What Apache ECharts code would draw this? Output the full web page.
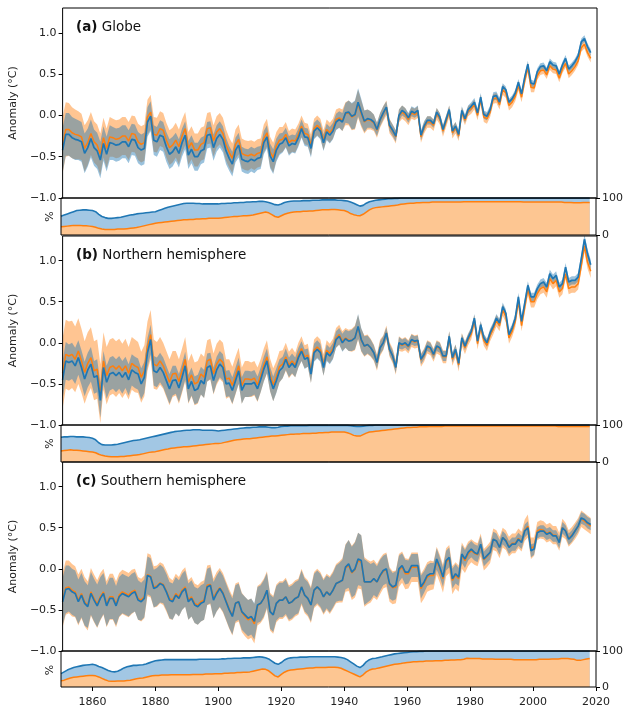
<!DOCTYPE html>
<html><head><meta charset="utf-8">
<script src="https://cdn.jsdelivr.net/npm/echarts@6/dist/echarts.min.js"></script>
<style>html,body{margin:0;padding:0;background:#fff}#c{width:626px;height:708px}</style>
</head><body><div id="c"></div>
<script>
// Years 1850..2018; anomaly values and half-widths in hundredths of a degree C; coverage in %.
const firstYear = 1850, lastAxisYear = 2020;
const xTickYears = [1860, 1880, 1900, 1920, 1940, 1960, 1980, 2000, 2020];
const yTickValues = [-1, -0.5, 0, 0.5, 1];
const coverageTicks = [0, 100];

const globeBlue = [
-42,-23,-23,-27,-29,-30,-32,-46,-39,-28,
-39,-43,-54,-34,-47,-33,-34,-36,-35,-32,
-32,-38,-29,-30,-39,-42,-40,-8,-1,-30,
-32,-24,-26,-38,-47,-44,-38,-46,-33,-24,
-48,-41,-50,-50,-43,-41,-24,-23,-39,-28,
-23,-29,-43,-52,-59,-42,-36,-53,-55,-56,
-53,-55,-52,-51,-33,-26,-49,-56,-42,-35,
-33,-27,-37,-34,-35,-27,-16,-26,-27,-40,
-19,-15,-19,-33,-20,-24,-19,-8,-5,-8,
3,4,-1,1,16,4,-7,-4,-5,-8,
-17,-5,3,10,-12,-18,-25,0,6,3,
-3,5,3,6,-24,-13,-6,-6,-10,4,
-2,-17,-5,7,-19,-13,-23,6,-4,7,
11,16,3,22,1,-1,7,23,24,16,
35,31,16,20,27,40,26,46,62,39,
38,53,59,60,54,65,61,60,50,61,
69,56,60,65,72,89,93,83,76];
const globeOrange = [
-36,-17,-17,-21,-23,-24,-26,-40,-33,-22,
-32,-36,-47,-27,-40,-26,-27,-29,-28,-25,
-25,-31,-22,-23,-32,-35,-33,-2,4,-23,
-24,-16,-18,-30,-39,-36,-30,-38,-25,-16,
-40,-33,-42,-42,-35,-33,-16,-15,-31,-20,
-16,-22,-36,-45,-52,-35,-29,-46,-48,-49,
-47,-49,-46,-45,-28,-21,-44,-51,-37,-30,
-29,-23,-33,-30,-31,-23,-13,-22,-23,-36,
-16,-12,-16,-30,-17,-21,-16,-5,-3,-6,
2,3,-2,0,14,2,-8,-5,-6,-9,
-18,-6,2,9,-13,-19,-26,-1,4,1,
-5,3,1,4,-26,-15,-8,-8,-12,2,
-4,-19,-7,5,-21,-15,-25,4,-6,5,
8,13,0,19,-2,-4,4,20,21,13,
31,27,12,16,23,36,22,42,58,34,
33,48,54,55,49,60,56,55,45,56,
63,50,54,59,66,82,86,76,69];
const globeBlueErr = [
27,26,26,25,25,24,24,24,23,23,
22,22,22,21,21,21,20,20,20,20,
20,20,19,19,19,19,19,18,18,18,
18,18,18,18,18,18,17,17,17,17,
17,17,17,17,16,16,16,16,16,16,
16,16,16,15,15,15,15,15,15,15,
15,15,14,14,14,14,15,15,14,13,
12,12,12,11,11,11,11,11,11,11,
10,10,10,10,10,10,10,10,10,11,
12,14,16,17,17,16,13,11,10,9,
8,8,8,7,7,7,7,7,6,6,
6,6,6,6,6,6,5,5,5,5,
5,5,5,5,5,5,5,5,5,5,
5,5,5,5,5,5,5,5,5,5,
4,4,4,4,4,4,4,4,4,4,
4,4,4,4,4,4,4,4,4,4,
4,4,4,4,4,4,4,4,4];
const globeOrangeErr = [
34,33,32,31,30,29,28,28,27,26,
25,25,25,24,24,24,23,23,23,23,
23,23,22,22,22,22,22,21,21,21,
21,21,21,21,21,21,21,21,20,20,
20,20,20,20,20,20,19,19,19,19,
19,19,19,18,18,18,18,18,18,18,
17,17,17,17,17,17,18,18,17,16,
15,15,14,14,14,13,13,13,13,13,
12,12,12,12,12,12,12,12,12,13,
14,15,16,17,17,16,14,12,11,10,
9,9,9,9,9,8,8,8,8,8,
7,7,7,7,7,7,7,7,7,7,
7,7,7,7,7,7,6,6,6,6,
6,6,6,6,6,6,6,6,6,6,
6,6,6,6,6,6,6,6,6,6,
5,5,5,5,5,5,5,5,5,5,
5,5,5,5,5,5,5,5,5];

const nhBlue = [
-45,-22,-24,-22,-28,-18,-30,-44,-33,-26,
-42,-40,-70,-30,-48,-38,-36,-40,-36,-42,
-36,-45,-33,-36,-38,-50,-42,-12,4,-34,
-36,-30,-36,-46,-56,-46,-45,-55,-42,-28,
-56,-47,-58,-56,-46,-50,-30,-28,-46,-33,
-26,-30,-50,-49,-58,-46,-34,-58,-50,-50,
-50,-48,-56,-45,-32,-22,-44,-56,-46,-34,
-30,-20,-30,-25,-30,-18,-10,-20,-18,-38,
-12,-8,-12,-30,-12,-16,-10,4,8,0,
5,2,3,6,20,4,-4,-2,-6,-12,
-24,-6,0,12,-8,-16,-30,0,-2,0,
-4,4,2,3,-20,-14,-4,-6,-14,-4,
-6,-16,-16,8,-18,-8,-25,6,-4,6,
14,30,2,22,6,0,12,20,30,24,
44,36,10,18,30,56,26,48,70,56,
56,66,72,74,68,84,78,82,68,72,
92,74,76,76,80,102,126,108,95];
const nhOrange = [
-37,-14,-16,-14,-20,-10,-22,-36,-25,-18,
-34,-32,-62,-22,-40,-30,-28,-32,-28,-34,
-28,-37,-25,-28,-30,-42,-34,-4,10,-26,
-28,-22,-28,-38,-48,-38,-37,-47,-34,-20,
-48,-39,-50,-48,-38,-42,-22,-20,-38,-26,
-20,-24,-44,-43,-52,-40,-28,-52,-44,-44,
-45,-43,-51,-40,-27,-17,-39,-51,-41,-29,
-26,-17,-27,-22,-27,-15,-7,-17,-15,-35,
-9,-5,-9,-27,-9,-13,-7,6,10,2,
6,3,3,6,19,3,-4,-2,-6,-12,
-24,-6,0,12,-8,-16,-30,-1,-3,-1,
-5,3,1,2,-21,-15,-5,-7,-15,-5,
-7,-17,-17,6,-20,-10,-27,4,-6,4,
11,27,-1,19,3,-3,9,17,27,21,
40,32,6,14,26,51,21,43,65,50,
50,60,66,68,62,78,72,76,62,66,
84,66,68,68,72,94,118,98,87];
const nhBlueErr = [
23,23,22,22,22,21,21,21,21,21,
20,20,21,20,20,20,20,20,20,20,
19,19,19,19,19,19,19,18,18,18,
18,18,18,18,18,18,17,17,17,17,
17,17,17,17,17,17,17,16,16,16,
16,16,16,16,16,16,16,16,16,16,
15,15,15,15,15,15,15,15,15,14,
13,13,12,12,12,12,12,12,11,11,
11,11,11,10,10,10,10,10,10,11,
11,12,13,14,15,14,12,11,10,9,
8,8,8,7,7,7,7,7,6,6,
6,6,6,6,6,6,6,6,6,6,
6,6,6,6,6,6,6,5,5,5,
5,5,5,5,5,5,5,5,5,5,
5,5,5,5,5,5,5,5,5,5,
5,5,5,5,5,5,5,5,5,5,
5,5,5,5,5,5,6,6,6];
const nhOrangeErr = [
43,42,42,41,40,40,39,38,38,37,
36,36,36,35,35,34,34,34,33,33,
33,32,32,32,31,31,31,30,30,30,
29,29,28,28,28,28,27,27,27,27,
26,26,26,26,25,25,25,25,25,25,
24,24,24,23,23,23,22,22,22,22,
21,21,21,20,20,20,20,20,19,19,
17,17,16,16,15,15,15,14,14,14,
13,13,13,13,12,12,12,12,12,12,
12,13,14,15,15,14,13,12,11,10,
10,10,9,9,9,9,9,9,8,8,
8,8,8,8,8,8,8,8,8,8,
8,8,8,8,8,8,8,8,8,7,
7,7,7,7,7,7,7,7,7,7,
7,7,7,7,7,7,7,7,7,7,
7,7,7,7,7,7,7,7,7,7,
7,7,7,7,7,7,8,8,8];

const shBlue = [
-40,-25,-24,-28,-30,-40,-32,-42,-46,-30,
-38,-45,-36,-30,-45,-36,-36,-45,-34,-30,
-32,-34,-30,-28,-38,-40,-36,-8,-10,-24,
-22,-18,-20,-28,-38,-40,-32,-36,-28,-24,
-40,-36,-44,-46,-42,-40,-22,-20,-38,-30,
-24,-30,-40,-50,-58,-42,-40,-52,-56,-60,
-58,-64,-44,-42,-36,-26,-52,-56,-42,-38,
-38,-34,-42,-40,-36,-34,-22,-32,-36,-44,
-26,-22,-26,-34,-28,-32,-26,-18,-16,-14,
2,6,-4,0,12,10,-16,-16,-16,-12,
-16,-8,-2,0,-18,-22,-20,0,4,-4,
-4,4,4,4,-22,-16,-8,-6,-6,12,
2,-10,10,14,-12,-6,-10,18,12,20,
24,20,18,30,12,16,20,36,34,26,
38,34,26,30,30,36,32,46,50,22,
24,44,46,46,42,44,40,40,32,50,
46,36,40,46,52,62,60,56,54];
const shOrange = [
-38,-23,-22,-26,-28,-38,-30,-40,-45,-28,
-36,-43,-34,-28,-43,-34,-34,-43,-32,-28,
-30,-32,-28,-26,-36,-38,-34,-7,-9,-22,
-21,-17,-19,-27,-36,-38,-30,-34,-26,-22,
-38,-34,-42,-44,-40,-38,-20,-19,-36,-28,
-23,-29,-39,-49,-57,-42,-40,-53,-58,-62,
-60,-67,-45,-42,-36,-26,-52,-56,-42,-38,
-38,-34,-42,-40,-36,-34,-22,-32,-36,-44,
-26,-22,-26,-34,-28,-32,-26,-18,-16,-14,
1,4,-5,-1,10,8,-16,-16,-16,-12,
-16,-9,-3,-1,-19,-23,-22,-2,2,-6,
-6,2,2,2,-24,-18,-10,-8,-8,10,
0,-12,8,12,-14,-8,-12,16,10,18,
22,19,17,29,11,15,20,36,34,26,
38,35,27,31,31,37,33,47,52,25,
27,46,48,47,43,45,41,41,33,50,
46,37,41,46,52,61,58,55,52];
const shBlueErr = [
29,29,28,28,28,27,27,27,26,26,
26,26,26,25,25,25,25,24,24,24,
24,24,24,24,24,23,23,23,23,23,
23,23,22,22,22,22,22,22,22,22,
22,22,22,22,22,22,22,22,22,22,
22,22,22,22,22,22,22,22,22,22,
22,22,22,22,22,21,21,21,21,21,
21,21,20,20,20,20,20,20,20,20,
20,20,20,20,20,21,21,22,23,25,
27,29,31,32,32,31,28,25,22,20,
19,19,18,18,18,17,17,16,15,15,
14,14,14,14,14,13,13,13,13,13,
12,12,12,12,12,12,11,11,11,10,
10,10,10,10,9,9,9,9,9,9,
8,8,8,8,8,8,8,8,8,8,
7,7,7,7,7,7,7,7,7,7,
7,7,7,7,7,7,7,7,7];
const shOrangeErr = [
33,33,32,32,31,31,30,30,30,29,
29,29,29,28,28,28,28,28,27,27,
27,27,27,26,26,26,26,26,26,25,
25,25,25,25,25,24,24,24,24,24,
24,24,24,24,24,24,24,24,24,24,
24,24,24,24,24,24,24,24,24,24,
24,24,24,24,24,23,23,23,23,23,
23,23,22,22,22,22,22,22,22,22,
22,22,22,22,22,23,23,24,25,27,
29,31,33,34,34,33,30,27,25,23,
22,22,21,21,21,20,20,20,19,19,
18,18,18,18,18,18,18,18,17,17,
17,17,17,17,17,16,16,16,15,15,
14,14,14,14,13,13,13,13,13,13,
12,12,12,12,12,12,12,13,14,13,
11,11,11,11,11,11,11,11,11,11,
10,10,10,10,10,10,10,10,10];

const globeCovBlue = [
51,54,57,60,63,66,67,68,68,67,
66,63,56,50,47,45,45,46,47,48,
50,52,54,55,57,58,59,60,61,62,
63,66,69,72,75,77,79,81,83,85,
86,86,86,85,85,84,84,84,84,84,
84,85,85,86,86,87,87,88,88,89,
89,90,90,91,91,90,88,85,82,81,
84,88,90,91,92,92,92,93,93,93,
94,94,94,95,95,95,95,95,94,94,
93,92,89,86,82,78,80,86,90,92,
94,95,96,97,98,98,99,99,100,100,
100,100,100,100,100,100,100,100,100,100,
100,100,100,100,100,100,100,100,100,100,
100,100,100,100,100,100,100,100,100,100,
100,100,100,100,100,100,100,100,100,100,
100,100,100,100,100,100,100,100,100,100,
100,100,100,100,100,100,100,100,100];
const globeCovOrange = [
22,23,24,25,26,26,26,25,25,24,
23,21,18,16,15,15,15,15,16,16,
16,17,18,19,20,22,24,26,28,30,
32,33,34,35,36,37,38,39,40,41,
41,42,42,43,43,44,44,45,45,45,
45,46,47,48,49,50,50,51,52,52,
53,54,56,58,60,62,60,55,50,48,
52,56,59,61,62,63,63,64,64,65,
65,66,67,68,68,68,69,69,68,67,
66,63,58,55,53,52,56,62,68,72,
74,75,76,77,78,79,80,81,83,84,
85,86,86,87,87,88,88,88,89,89,
89,89,89,89,89,89,89,89,90,90,
90,90,90,90,90,90,90,90,90,90,
90,90,90,90,90,90,90,89,89,89,
89,89,89,89,89,89,89,89,89,89,
88,88,88,87,87,87,88,88,88];
const nhCovBlue = [
67,68,68,69,69,68,68,68,67,66,
64,60,52,47,46,46,46,47,48,50,
52,54,56,58,59,60,62,64,66,68,
70,72,74,76,78,80,82,83,84,85,
86,86,87,87,87,86,86,86,86,85,
84,85,86,87,88,89,90,91,92,93,
93,94,94,95,95,95,94,93,93,94,
96,97,97,98,98,98,98,98,98,99,
99,99,99,99,99,99,99,99,99,99,
99,99,98,97,96,96,97,98,99,99,
100,100,100,100,100,100,100,100,100,100,
100,100,100,100,100,100,100,100,100,100,
100,100,100,100,100,100,100,100,100,100,
100,100,100,100,100,100,100,100,100,100,
100,100,100,100,100,100,100,100,100,100,
100,100,100,100,100,100,100,100,100,100,
100,100,100,100,100,100,100,100,100];
const nhCovOrange = [
30,31,32,33,32,32,31,30,29,28,
27,25,21,18,16,15,14,14,14,15,
15,16,17,18,19,20,22,24,26,27,
28,30,32,34,35,37,38,39,40,41,
41,42,43,44,45,46,47,48,49,50,
50,51,53,55,57,59,60,61,62,63,
63,64,65,66,67,68,69,70,70,71,
72,73,74,75,75,76,76,77,77,77,
78,78,79,79,80,80,81,81,81,81,
81,79,76,72,70,70,74,78,81,82,
83,84,85,86,87,88,89,90,91,92,
93,93,94,94,95,95,95,96,96,96,
96,96,97,97,97,97,97,97,97,97,
97,97,97,97,97,97,97,97,97,97,
97,97,97,97,97,97,97,97,97,97,
97,97,97,97,97,97,97,97,96,96,
96,96,96,96,96,96,96,96,96];
const shCovBlue = [
37,42,47,51,54,56,58,60,61,62,
63,61,57,54,50,46,43,42,44,48,
53,56,58,60,60,61,62,64,67,70,
73,74,75,76,76,76,76,76,76,76,
76,76,76,76,77,77,77,77,77,77,
77,78,78,79,79,80,80,80,81,81,
81,82,83,84,83,81,78,72,66,63,
68,75,79,81,82,82,83,83,83,84,
84,84,84,84,84,84,84,84,83,82,
80,76,70,64,58,54,60,70,76,79,
80,82,84,86,88,90,92,93,94,95,
96,97,98,98,99,99,100,100,100,100,
100,100,100,100,100,100,100,100,100,100,
100,100,100,100,100,100,100,100,100,100,
100,100,100,100,100,100,100,100,100,100,
100,100,100,100,100,100,100,100,100,100,
100,100,100,100,100,100,100,100,100];
const shCovOrange = [
17,19,22,25,27,28,29,30,31,32,
32,31,28,24,20,17,16,16,17,17,
17,18,19,21,23,24,25,27,29,31,
32,32,33,33,33,34,34,34,34,34,
34,34,35,35,35,35,36,36,36,37,
37,37,38,38,39,39,40,40,41,41,
42,44,46,48,50,49,45,38,31,28,
35,41,45,47,48,49,50,51,52,53,
53,54,54,54,54,55,55,55,54,52,
48,44,40,36,32,28,34,42,47,50,
51,53,55,57,59,61,63,64,65,67,
68,69,70,70,71,71,72,72,72,73,
73,73,74,74,75,75,76,76,77,80,
79,79,79,79,78,78,78,78,77,77,
77,77,77,77,76,76,76,76,76,76,
76,76,77,77,77,77,78,78,78,79,
79,79,78,77,74,74,76,78,79];

const panelTags = ['(a)', '(b)', '(c)'];
const panelNames = ['Globe', 'Northern hemisphere', 'Southern hemisphere'];

const panels = [
  {mB: globeBlue, mO: globeOrange, eB: globeBlueErr, eO: globeOrangeErr, cB: globeCovBlue, cO: globeCovOrange},
  {mB: nhBlue, mO: nhOrange, eB: nhBlueErr, eO: nhOrangeErr, cB: nhCovBlue, cO: nhCovOrange},
  {mB: shBlue, mO: shOrange, eB: shBlueErr, eO: shOrangeErr, cB: shCovBlue, cO: shCovOrange}
];

// ---- layout (pixels) ----
const L = 61, W = 536;
const anomTop = [8, 236, 462], anomH = [190, 189, 189];
const covTop = [198, 425, 651], covH = [37, 37, 38];

const years = [];
for (let y = firstYear; y <= lastAxisYear; y++) years.push(String(y));

const FONT = 'DejaVu Sans';
const BLUE = '#1f77b4', ORANGE = '#ff7f0e';
const toC = v => v / 100;
const fmt = v => { const s = Number(v).toFixed(1); return s.replace('-', '\u2212'); };
const tickFilter = (i, v) => xTickYears.indexOf(Number(v)) >= 0;

const grid = [], xAxis = [], yAxis = [], series = [], title = [], graphic = [];

panels.forEach((P, p) => {
  const gi = 2 * p, ci = 2 * p + 1;
  grid.push({left: L, width: W, top: anomTop[p], height: anomH[p], show: true, borderColor: '#000', borderWidth: 1, z: 10, backgroundColor: 'transparent'});
  grid.push({left: L, width: W, top: covTop[p], height: covH[p], show: true, borderColor: '#000', borderWidth: 1, z: 10, backgroundColor: 'transparent'});
  [gi, ci].forEach(g => {
    const isBottom = g === 5;
    xAxis.push({
      type: 'category', gridIndex: g, data: years, boundaryGap: false,
      axisLine: {show: false}, splitLine: {show: false},
      axisTick: {show: isBottom, interval: tickFilter, length: 4, lineStyle: {color: '#000', width: 1}},
      axisLabel: {show: isBottom, interval: tickFilter, margin: 10, fontSize: 11, color: '#222', fontFamily: FONT}
    });
  });
  yAxis.push({
    type: 'value', gridIndex: gi, min: -1, max: 1.3, interval: 0.5,
    axisLine: {show: false}, splitLine: {show: false},
    axisTick: {show: true, length: 4, customValues: yTickValues, lineStyle: {color: '#000'}},
    axisLabel: {customValues: yTickValues, formatter: fmt, fontSize: 11, color: '#222', fontFamily: FONT, margin: 6},
    name: 'Anomaly (\u00b0C)', nameLocation: 'middle', nameRotate: 90, nameGap: 38,
    nameTextStyle: {fontSize: 11, color: '#222', fontFamily: FONT}
  });
  yAxis.push({
    type: 'value', gridIndex: ci, position: 'right', min: 0, max: 100, interval: 100,
    axisLine: {show: false}, splitLine: {show: false},
    axisTick: {show: true, length: 4, customValues: coverageTicks, lineStyle: {color: '#000'}},
    axisLabel: {customValues: coverageTicks, fontSize: 11, color: '#222', fontFamily: FONT, margin: 6}
  });

  const lowO = P.mO.map((v, i) => toC(v - P.eO[i])), widO = P.eO.map(v => toC(2 * v));
  const lowB = P.mB.map((v, i) => toC(v - P.eB[i])), widB = P.eB.map(v => toC(2 * v));
  const base = {type: 'line', xAxisIndex: gi, yAxisIndex: gi, symbol: 'none', silent: true, emphasis: {disabled: true}};
  series.push(Object.assign({}, base, {data: lowO, stack: 'o' + p, stackStrategy: 'all', lineStyle: {opacity: 0, width: 0}}));
  series.push(Object.assign({}, base, {data: widO, stack: 'o' + p, stackStrategy: 'all', lineStyle: {opacity: 0, width: 0}, areaStyle: {color: ORANGE, opacity: 0.45}}));
  series.push(Object.assign({}, base, {data: lowB, stack: 'b' + p, stackStrategy: 'all', lineStyle: {opacity: 0, width: 0}}));
  series.push(Object.assign({}, base, {data: widB, stack: 'b' + p, stackStrategy: 'all', lineStyle: {opacity: 0, width: 0}, areaStyle: {color: BLUE, opacity: 0.45}}));
  series.push(Object.assign({}, base, {data: P.mO.map(toC), lineStyle: {color: ORANGE, width: 1.5}}));
  series.push(Object.assign({}, base, {data: P.mB.map(toC), lineStyle: {color: BLUE, width: 1.7}}));

  const cbase = {type: 'line', xAxisIndex: ci, yAxisIndex: ci, symbol: 'none', silent: true, emphasis: {disabled: true}};
  series.push(Object.assign({}, cbase, {data: P.cB, lineStyle: {color: BLUE, width: 1.6}, areaStyle: {color: '#a2c7e4', opacity: 1}}));
  series.push(Object.assign({}, cbase, {data: P.cO, lineStyle: {color: ORANGE, width: 1.5}, areaStyle: {color: '#fdc692', opacity: 1}}));

  title.push({
    text: '{b|' + panelTags[p] + '} ' + panelNames[p], left: 76, top: anomTop[p] + 12, padding: 0,
    textStyle: {fontSize: 13.5, fontFamily: FONT, color: '#111', fontWeight: 'normal',
      rich: {b: {fontSize: 13.5, fontFamily: FONT, fontWeight: 'bold', color: '#111'}}}
  });
  graphic.push({
    type: 'text', x: 50, y: covTop[p] + covH[p] / 2, rotation: Math.PI / 2,
    style: {text: '%', font: '11px "DejaVu Sans"', fill: '#222', align: 'center', verticalAlign: 'middle'}
  });
});

const chart = echarts.init(document.getElementById('c'), null, {renderer: 'canvas'});
chart.setOption({animation: false, backgroundColor: '#fff', grid, xAxis, yAxis, series, title, graphic});
</script>
</body></html>
